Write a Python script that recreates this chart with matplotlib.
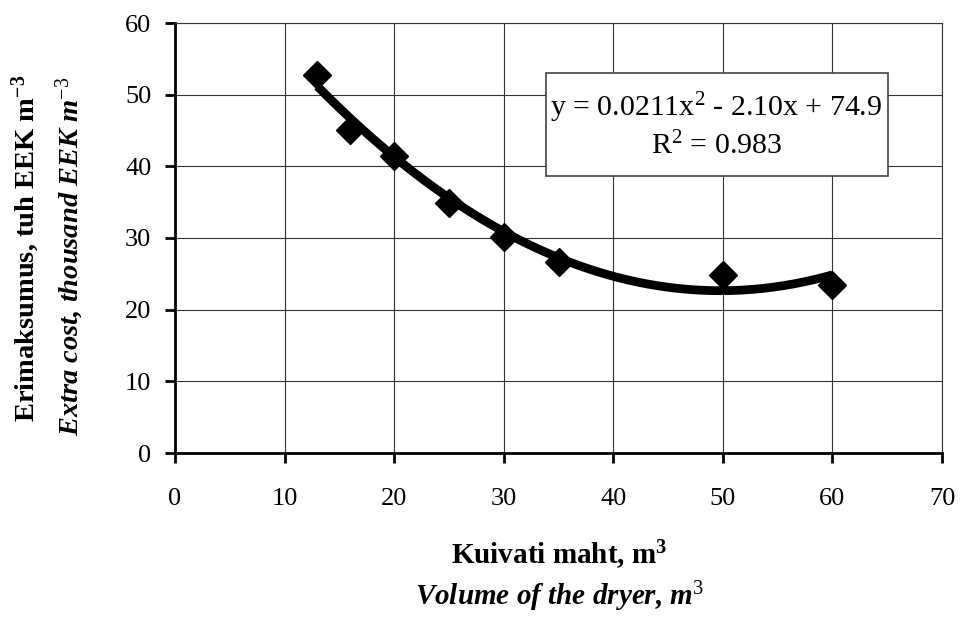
import numpy as np
import matplotlib.pyplot as plt
from matplotlib.patches import Rectangle

plt.rcParams['font.family'] = ['Liberation Serif', 'DejaVu Serif']
plt.rcParams['mathtext.fontset'] = 'custom'
plt.rcParams['mathtext.rm'] = 'Liberation Serif'
plt.rcParams['mathtext.it'] = 'Liberation Serif:italic'
plt.rcParams['mathtext.bf'] = 'Liberation Serif:bold'
plt.rcParams['axes.unicode_minus'] = False

# dryer volume (m3) and extra cost (thousand EEK per m3)
volume = [13, 16, 20, 25, 30, 35, 50, 60]
extra_cost = [52.7, 45.1, 41.4, 34.9, 30.1, 26.6, 24.8, 23.4]

# trendline coefficients as printed on the chart
coef = [0.0211, -2.10, 74.9]

x_ticks = [0, 10, 20, 30, 40, 50, 60, 70]
y_ticks = [0, 10, 20, 30, 40, 50, 60]

fig = plt.figure(figsize=(9.6, 6.17), dpi=100)
ax = fig.add_axes([175 / 960, 1 - 453 / 617, 767 / 960, 430 / 617])

xs = np.linspace(min(volume), max(volume), 200)
ax.plot(xs, np.polyval(coef, xs), color='black', lw=6.3, solid_capstyle='butt', zorder=3)
ax.plot(volume, extra_cost, 'D', color='black', markersize=14, zorder=4)

ax.set_xlim(0, 70)
ax.set_ylim(0, 60)
ax.set_xticks(x_ticks)
ax.set_yticks(y_ticks)
ax.grid(True, color='#333333', lw=0.8)
ax.set_axisbelow(True)
ax.tick_params(direction='out', length=7, width=2, labelsize=19)
ax.tick_params(axis='y', pad=10)
ax.tick_params(axis='x', pad=18)
for s in ['left', 'bottom']:
    ax.spines[s].set_linewidth(2)
for s in ['top', 'right']:
    ax.spines[s].set_color('#333333')
    ax.spines[s].set_linewidth(0.8)

# equation box
ax.add_patch(Rectangle((33.86, 38.65), 31.2, 14.35, fc='white', ec='#444444', lw=1.2, zorder=5))
ax.text(49.4, 45.7, 'y = 0.0211x$^2$ - 2.10x + 74.9\nR$^2$ = 0.983',
        ha='center', va='center', fontsize=21.5, linespacing=1.3, zorder=6)

# axis titles, Estonian bold + English italic
fig.text(26 / 960, 1 - 248 / 617, r'Erimaksumus, tuh EEK m$^{\mathbf{-3}}$', rotation=90,
         ha='center', va='center', fontsize=20.5, fontweight='bold')
fig.text(70 / 960, 1 - 256 / 617, r'Extra cost, thousand EEK m$^{\mathit{-3}}$', rotation=90,
         ha='center', va='center', fontsize=20.5, fontweight='bold', fontstyle='italic')
fig.text(559 / 960, 1 - 555 / 617, r'Kuivati maht, m$^{\mathbf{3}}$',
         ha='center', va='center', fontsize=21, fontweight='bold')
fig.text(560 / 960, 1 - 597 / 617, r'Volume of the dryer, m$^{\mathit{3}}$',
         ha='center', va='center', fontsize=21, fontweight='bold', fontstyle='italic')

fig.savefig('out.png', dpi=100)
